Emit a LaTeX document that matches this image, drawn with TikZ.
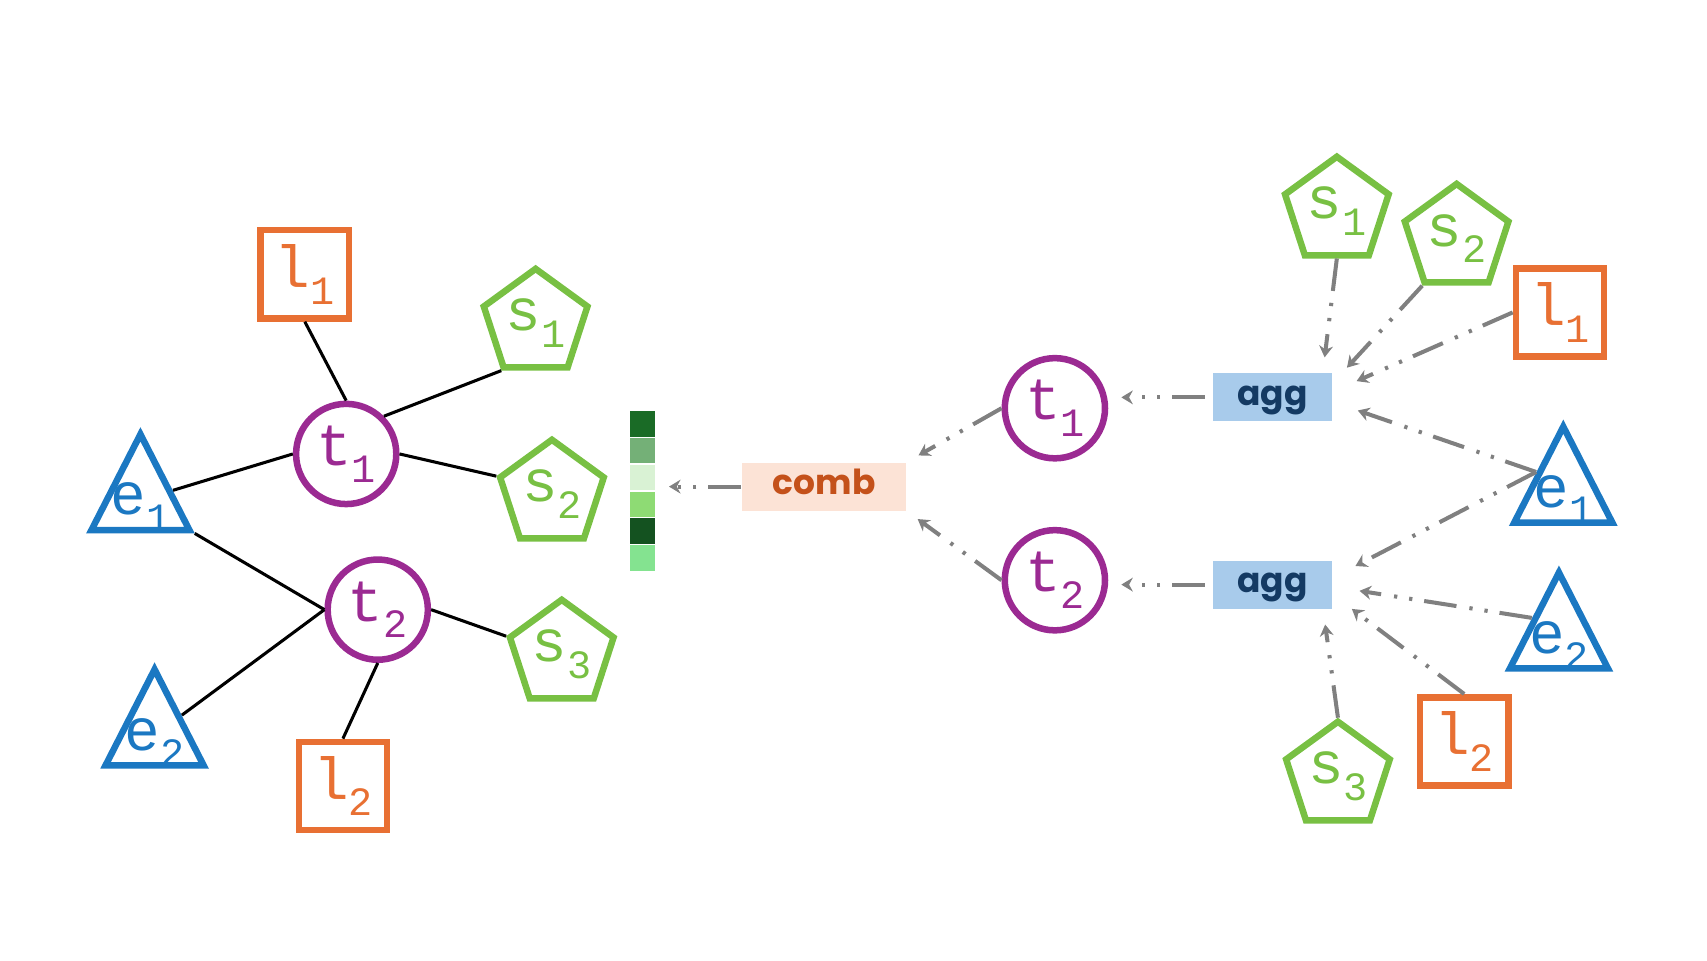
\documentclass[tikz,border=0pt]{standalone}
\usepackage{fontspec}
\usetikzlibrary{shapes.geometric,arrows.meta}
\newfontfamily\labfont{Liberation Mono}
\newfontfamily\opfont{Poppins}
\definecolor{lorange}{HTML}{E87033}
\definecolor{tpurple}{HTML}{9B2A92}
\definecolor{sgreen}{HTML}{78C043}
\definecolor{eblue}{HTML}{1B78C2}
\definecolor{flowgray}{HTML}{808080}
\definecolor{aggfill}{HTML}{A8CBEB}
\definecolor{aggtext}{HTML}{143A63}
\definecolor{combfill}{HTML}{FCE3D6}
\definecolor{combtext}{HTML}{C4511A}
\definecolor{emb1}{HTML}{1A6B26}
\definecolor{emb2}{HTML}{74B077}
\definecolor{emb3}{HTML}{D9F2D4}
\definecolor{emb4}{HTML}{8EDB74}
\definecolor{emb5}{HTML}{145220}
\definecolor{emb6}{HTML}{84E390}
\newcommand{\sublab}[2]{\fontsize{15.5}{15.5}\selectfont#1\raisebox{-0.28em}{\fontsize{10.5}{10.5}\selectfont#2}}

\begin{document}
\begin{tikzpicture}[x=0.01cm,y=-0.01cm,line join=miter,
		shp/.style={line width=1.7pt,font=\labfont,inner sep=0pt},
		lbox/.style={shp,rectangle,draw=lorange,text=lorange,minimum size=0.81cm},
		tcirc/.style={shp,circle,draw=tpurple,text=tpurple,minimum size=0.92cm},
		spent/.style={shp,regular polygon,regular polygon sides=5,draw=sgreen,text=sgreen,minimum size=1cm},
		etri/.style={shp,isosceles triangle,isosceles triangle stretches,shape border rotate=90,draw=eblue,minimum width=0.9cm,minimum height=0.88cm,anchor=lower side},
		elab/.style={font=\labfont,text=eblue,inner sep=0pt},
		link/.style={line width=0.8pt},
		flow/.style={draw=flowgray,line width=1.05pt,dash pattern=on 0.3cm off 0.11cm on 0.03cm off 0.11cm on 0.03cm off 0.12cm,-{Stealth[length=3pt,width=3.6pt]},shorten >=0.12cm},
		opbox/.style={font=\opfont\bfseries\fontsize{9}{9}\selectfont,inner sep=0pt,text height=1ex,text depth=0pt,minimum height=0.44cm},
		cell/.style={draw=white,line width=0.3pt,inner sep=0pt,minimum width=0.24cm,minimum height=0.247cm}]
	\useasboundingbox (0,0) rectangle (1568,882);
	% graph
	\node[lbox] (l1) at (280,252) {\sublab{l}{1}};
	\node[tcirc] (t1) at (318,417) {\sublab{t}{1}};
	\node[spent] (s1) at (492,297) {\sublab{s}{1}};
	\node[spent] (s2) at (507,454) {\sublab{s}{2}};
	\node[etri] (e1) at (129,490) {};
	\node[elab] (e1txt) at ([yshift=0.24cm]e1.lower side) {\sublab{e}{1}};
	\node[tcirc] (t2) at (347,560) {\sublab{t}{2}};
	\node[spent] (s3) at (516,601) {\sublab{s}{3}};
	\node[etri] (e2) at (142,706) {};
	\node[elab] (e2txt) at ([yshift=0.24cm]e2.lower side) {\sublab{e}{2}};
	\node[lbox] (l2) at (315,722) {\sublab{l}{2}};
	\draw[link] (l1.south) -- (t1.north);
	\draw[link] (t1.45) -- (s1.corner 3);
	\draw[link] (t1.east) -- (s2.corner 2);
	\draw[link] (t1.west) -- (e1);
	\draw[link] (e1.right corner) -- (t2.west);
	\draw[link] (t2.west) -- (e2);
	\draw[link] (t2.east) -- (s3.corner 2);
	\draw[link] (t2.south) -- (l2.north);
	% embedding
	\foreach \c [count=\i from 0] in {emb1,emb2,emb3,emb4,emb5,emb6}
		\node[cell,fill=\c] (cell\i) at (590,389.3+24.67*\i) {};
	\node[opbox,fill=combfill,text=combtext,minimum width=1.51cm] (comb) at (757,447) {comb};
	\draw[flow] (comb.west) -- (comb.west -| cell0.east);
	% aggregation
	\node[tcirc] (t1r) at (969,375) {\sublab{t}{1}};
	\node[tcirc] (t2r) at (969,533) {\sublab{t}{2}};
	\node[opbox,fill=aggfill,text=aggtext,minimum width=1.09cm] (agg1) at (1169,365) {agg};
	\node[opbox,fill=aggfill,text=aggtext,minimum width=1.09cm] (agg2) at (1169,537) {agg};
	\coordinate (hub1) at ([xshift=-0.12cm]agg1.east);
	\coordinate (hub2) at ([xshift=-0.12cm]agg2.east);
	\node[spent] (s1r) at (1228,194) {\sublab{s}{1}};
	\node[spent] (s2r) at (1338,219) {\sublab{s}{2}};
	\node[lbox] (l1r) at (1433,287) {\sublab{l}{1}};
	\node[etri] (e1r) at (1436,483) {};
	\node[elab] (e1rtxt) at ([yshift=0.24cm]e1r.lower side) {\sublab{e}{1}};
	\node[etri] (e2r) at (1432,617) {};
	\node[elab] (e2rtxt) at ([yshift=0.24cm]e2r.lower side) {\sublab{e}{2}};
	\node[lbox] (l2r) at (1345,681) {\sublab{l}{2}};
	\node[spent] (s3r) at (1229,713) {\sublab{s}{3}};
	\draw[flow,shorten >=0.37cm] (s1r.side 3) -- (hub1);
	\draw[flow,shorten >=0.37cm] (s2r.corner 3) -- (hub1);
	\draw[flow,shorten >=0.37cm] (l1r.west) -- (hub1);
	\draw[flow,shorten >=0.37cm] (e1r.left side) -- (hub1);
	\draw[flow,shorten >=0.37cm] (e1r.left side) -- (hub2);
	\draw[flow,shorten >=0.37cm] (e2r.left side) -- (hub2);
	\draw[flow,shorten >=0.37cm] (l2r.north) -- (hub2);
	\draw[flow,shorten >=0.37cm] (s3r.corner 1) -- (hub2);
	\draw[flow,shorten <=0.07cm] (agg1.west) -- (agg1.west -| t1r.east);
	\draw[flow,shorten <=0.07cm] (agg2.west) -- (agg2.west -| t2r.east);
	\draw[flow] (t1r.west) -- (comb.north east);
	\draw[flow] (t2r.west) -- (comb.south east);
\end{tikzpicture}
\end{document}
